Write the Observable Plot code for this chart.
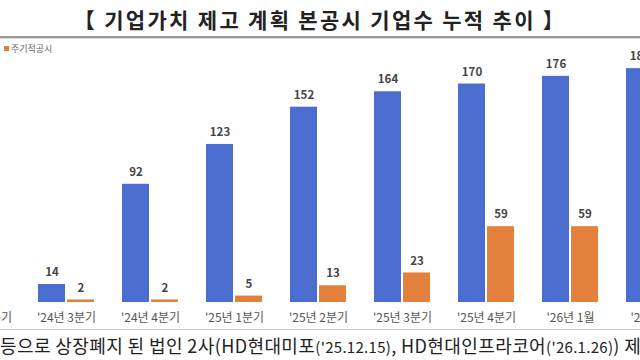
<!DOCTYPE html>
<html>
<head>
<meta charset="utf-8">
<script src="https://cdn.jsdelivr.net/npm/d3@7"></script>
<script src="https://cdn.jsdelivr.net/npm/@observablehq/plot@0.6"></script>
<style>
  html, body { margin: 0; padding: 0; background: #fff; }
  #wrap { position: relative; width: 640px; height: 360px; overflow: hidden; background: #fff;
          font-family: "Noto Sans CJK KR", "Noto Sans", sans-serif; }
  #title { position: absolute; left: 0; width: 640px; top: 4px; text-align: center;
           font-size: 21px; font-weight: bold; color: #222; letter-spacing: 2.3px; white-space: nowrap; }
  #rule { position: absolute; left: 0; width: 640px; top: 36px; height: 2px; background: #9a9a9a;
          border-bottom: 1px solid #d6d6d6; }
  #legend { position: absolute; left: 4px; top: 42px; font-size: 9px; color: #666; white-space: nowrap; }
  #legend .sw { display: inline-block; width: 5px; height: 5px; margin-right: 2px; vertical-align: 1px; }
  #chart { position: absolute; left: -62px; top: 40px; width: 759px; }
  #chart svg { max-width: none !important; }
  #rule2 { position: absolute; left: 0; width: 640px; top: 329px; height: 1px; background: #c8c8c8; }
  #note { position: absolute; left: 0; top: 332px; font-size: 18px; color: #222; white-space: nowrap; letter-spacing: 0.4px; }
  #note .s { font-size: 15px; letter-spacing: 0.3px; }
</style>
</head>
<body>
<div id="wrap">
  <div id="title"></div>
  <div id="rule"></div>
  <div id="legend"></div>
  <div id="chart"></div>
  <div id="rule2"></div>
  <div id="note"></div>
</div>
<script>
const titleText = "【 기업가치 제고 계획 본공시 기업수 누적 추이 】";
const categories = ["'24년 2분기", "'24년 3분기", "'24년 4분기", "'25년 1분기", "'25년 2분기", "'25년 3분기", "'25년 4분기", "'26년 1월", "'26년 2월"];
const seriesNames = ["본공시 기업수", "주기적공시"];
const totalValues = [null, 14, 92, 123, 152, 164, 170, 176, 182];
const periodicValues = [null, 2, 2, 5, 13, 23, 59, 59, null];
const seriesColors = ["#4a6dcf", "#e3803b"];
const notePieces = [
  ["등으로 상장폐지 된 법인 2사(HD현대미포", ""],
  ["('25.12.15)", "s"],
  [", HD현대인프라코어", ""],
  ["('26.1.26)", "s"],
  [") 제외", ""]
];

document.getElementById("title").textContent = titleText;
document.getElementById("legend").innerHTML =
  `<span class="sw" style="background:${seriesColors[1]}"></span>${seriesNames[1]}`;
document.getElementById("note").innerHTML =
  notePieces.map(([t, c]) => c ? `<span class="${c}">${t}</span>` : t).join("");

const rows = [];
categories.forEach((c, i) => {
  if (totalValues[i] != null) rows.push({cat: c, series: seriesNames[0], value: totalValues[i]});
  if (periodicValues[i] != null) rows.push({cat: c, series: seriesNames[1], value: periodicValues[i]});
});

const chart = Plot.plot({
  width: 759,
  height: 300,
  marginTop: 5,
  marginBottom: 38,
  marginLeft: 0,
  marginRight: 0,
  style: {fontFamily: "'Noto Sans CJK KR', sans-serif", background: "transparent", maxWidth: "none"},
  fx: {domain: categories, padding: 0, label: null},
  x: {domain: seriesNames, paddingInner: 0.07, paddingOuter: 0.46, axis: null},
  y: {domain: [0, 200], axis: null},
  color: {domain: seriesNames, range: seriesColors},
  marks: [
    Plot.barY(rows, {fx: "cat", x: "series", y: "value", fill: "series"}),
    Plot.text(rows, {fx: "cat", x: "series", y: "value", text: d => String(d.value),
      dy: -12, fontWeight: "bold", fill: "#444", fontSize: 11.5}),
    Plot.axisFx({anchor: "bottom", tickSize: 0, tickPadding: 11, fontSize: 12, fill: "#555", label: null})
  ]
});
document.getElementById("chart").appendChild(chart);
</script>
</body>
</html>
